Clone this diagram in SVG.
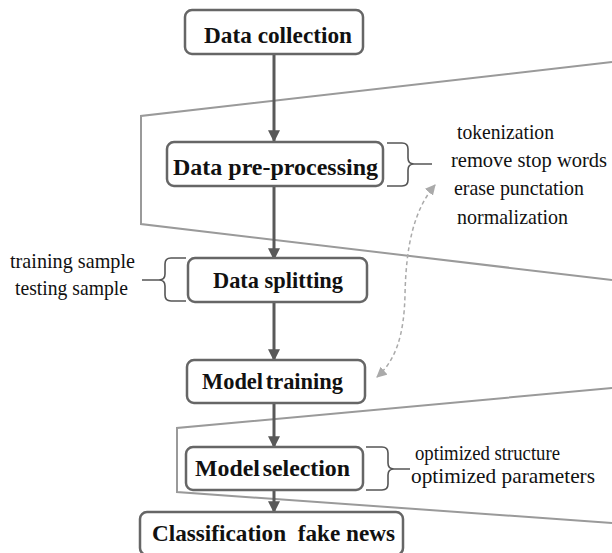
<svg xmlns="http://www.w3.org/2000/svg" width="612" height="553" viewBox="0 0 612 553">
  <style>
    .box { fill: #ffffff; stroke: #666666; stroke-width: 2.5; }
    .title { font-family: 'Liberation Serif', 'Times New Roman', Times, serif; font-weight: bold; font-size: 23px; fill: #111111; text-anchor: middle; }
    .note { font-family: 'Liberation Serif', 'Times New Roman', Times, serif; font-size: 21px; fill: #111111; }
    .flow { stroke: #595959; stroke-width: 3; fill: none; marker-end: url(#head); }
    .frame { stroke: #9a9a9a; stroke-width: 2; fill: none; }
    .brace { stroke: #555555; stroke-width: 1.6; fill: none; }
    .link { stroke: #aaaaaa; stroke-width: 1.5; stroke-dasharray: 4 3; fill: none; marker-start: url(#lhead); marker-end: url(#lhead); }
  </style>
  <defs>
    <marker id="head" viewBox="0 0 10 10" refX="9" refY="5" markerWidth="4" markerHeight="4" orient="auto" markerUnits="strokeWidth">
      <path d="M0,0 L10,5 L0,10 z" fill="#595959"/>
    </marker>
    <marker id="lhead" viewBox="0 0 10 10" refX="9" refY="5" markerWidth="7" markerHeight="7" orient="auto-start-reverse" markerUnits="strokeWidth">
      <path d="M0,0 L10,5 L0,10 z" fill="#aaaaaa"/>
    </marker>
  </defs>

  <!-- zoom frames -->
  <g id="frames">
    <polyline class="frame" points="612,62 141,116 141,224 612,280"/>
    <polyline class="frame" points="612,388 177,428 177,492 612,523"/>
  </g>

  <!-- connectors -->
  <g id="connectors">
    <line class="flow" x1="274" y1="55" x2="274" y2="141"/>
    <line class="flow" x1="274" y1="187" x2="274" y2="259"/>
    <line class="flow" x1="274" y1="303" x2="274" y2="360"/>
    <line class="flow" x1="274" y1="404" x2="274" y2="447"/>
    <line class="flow" x1="274" y1="491" x2="274" y2="512"/>
    <path class="link" d="M377,377 C396,360 404,335 405,295 C406,245 414,210 435,185"/>
  </g>

  <g id="data-collection">
    <rect class="box" x="185" y="10" width="178" height="44" rx="7"/>
    <text class="title" x="278" y="43" textLength="148" lengthAdjust="spacingAndGlyphs">Data collection</text>
  </g>

  <g id="data-preprocessing">
    <rect class="box" x="167" y="142" width="216" height="44" rx="7"/>
    <text class="title" x="275.5" y="175" textLength="205" lengthAdjust="spacingAndGlyphs">Data pre-processing</text>
    <path class="brace" d="M387,143 H402 Q408,143 408,149 V158 Q408,164 414,164 H432 M414,164 Q408,164 408,170 V180 Q408,186 402,186 H387"/>
    <text class="note" x="457" y="139" textLength="97" lengthAdjust="spacingAndGlyphs">tokenization</text>
    <text class="note" x="451" y="167" textLength="156" lengthAdjust="spacingAndGlyphs">remove stop words</text>
    <text class="note" x="454" y="195" textLength="130" lengthAdjust="spacingAndGlyphs">erase punctation</text>
    <text class="note" x="457" y="224" textLength="111" lengthAdjust="spacingAndGlyphs">normalization</text>
  </g>

  <g id="data-splitting">
    <rect class="box" x="188" y="258" width="179" height="44" rx="7"/>
    <text class="title" x="278" y="288" textLength="130" lengthAdjust="spacingAndGlyphs">Data splitting</text>
    <path class="brace" d="M186,258 H171 Q165,258 165,264 V274 Q165,280 159,280 H142 M159,280 Q165,280 165,286 V295 Q165,301 171,301 H186"/>
    <text class="note" x="10" y="268" textLength="125" lengthAdjust="spacingAndGlyphs">training sample</text>
    <text class="note" x="15" y="295" textLength="113" lengthAdjust="spacingAndGlyphs">testing sample</text>
  </g>

  <g id="model-training">
    <rect class="box" x="187" y="360" width="178" height="43" rx="7"/>
    <text class="title" x="272.5" y="389" word-spacing="-3" textLength="141" lengthAdjust="spacingAndGlyphs">Model training</text>
  </g>

  <g id="model-selection">
    <rect class="box" x="186" y="447" width="177" height="43" rx="7"/>
    <text class="title" x="272.5" y="476" word-spacing="-3" textLength="155" lengthAdjust="spacingAndGlyphs">Model selection</text>
    <path class="brace" d="M366,447 H382 Q388,447 388,453 V463 Q388,469 394,469 H410 M394,469 Q388,469 388,475 V484 Q388,490 382,490 H366"/>
    <text class="note" x="415" y="460" textLength="145" lengthAdjust="spacingAndGlyphs">optimized structure</text>
    <text class="note" x="411" y="483" textLength="184" lengthAdjust="spacingAndGlyphs">optimized parameters</text>
  </g>

  <g id="classification">
    <rect class="box" x="140" y="512" width="263" height="43" rx="7"/>
    <text class="title" x="273.5" y="541" xml:space="preserve" textLength="243" lengthAdjust="spacingAndGlyphs">Classification  fake news</text>
  </g>
</svg>
